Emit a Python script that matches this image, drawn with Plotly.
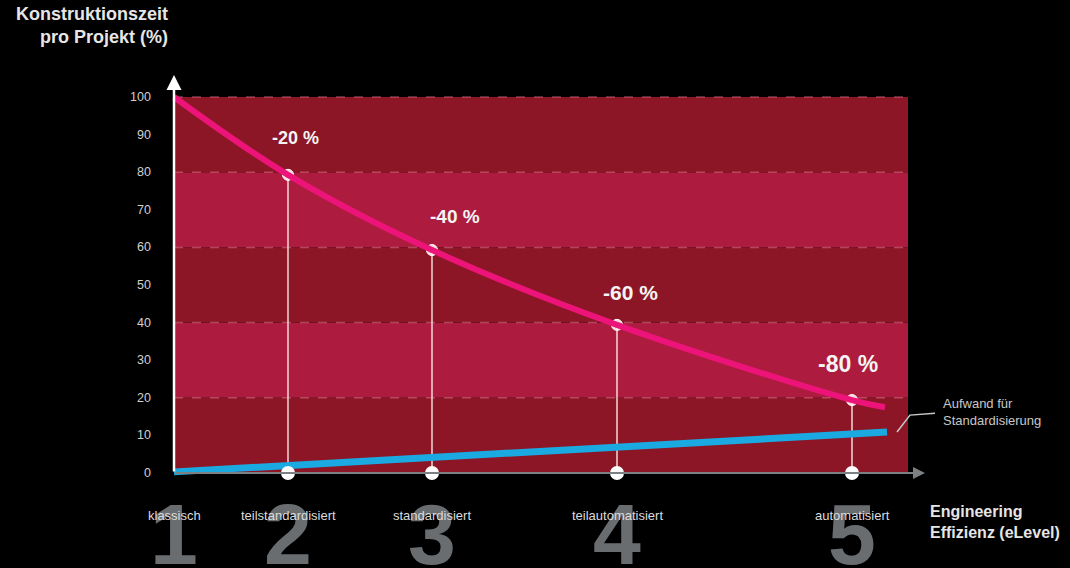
import plotly.graph_objects as go

# ---------------- data ----------------
levels = ["1", "2", "3", "4", "5"]
level_names = ["klassisch", "teilstandardisiert", "standardisiert", "teilautomatisiert", "automatisiert"]
level_pos = [0, 114, 258, 443, 678]          # horizontal position of each eLevel on the x scale
time_values = [100, 79.3, 59.3, 39.4, 19.4]   # Konstruktionszeit pro Projekt (%)
curve_end_x = 711
curve_end_y = 17.5
effort_x = [0, 713]
effort_y = [0.3, 10.9]                       # Aufwand für Standardisierung
reduction_labels = ["-20 %", "-40 %", "-60 %", "-80 %"]
reduction_label_x = [121, 281, 456, 674]
reduction_label_y = [89.1, 68.1, 48.1, 29.0]
reduction_label_size = [18, 19, 21, 23]
y_ticks = [0, 10, 20, 30, 40, 50, 60, 70, 80, 90, 100]
band_edges = [0, 20, 40, 60, 80, 100]
area_right = 734
x_arrow_end = 751
y_arrow_end = 105.85

W, H = 1070, 568
X0_PX, Y0_PX, PPU = 174, 473, 3.76
x_range = [-X0_PX, W - X0_PX]
y_range = [(Y0_PX - H) / PPU, Y0_PX / PPU]

FONT = "Liberation Sans, Arial, Helvetica, sans-serif"
DARK_BAND = "#8c1626"
LIGHT_BAND = "#ad1c3e"
PINK = "#ec1478"
BLUE = "#1ba9e1"

fig = go.Figure()

shapes = []
for i in range(len(band_edges) - 1):
    shapes.append(dict(type="rect", xref="x", yref="y", x0=0, x1=area_right,
                       y0=band_edges[i], y1=band_edges[i + 1],
                       fillcolor=DARK_BAND if i % 2 == 0 else LIGHT_BAND,
                       line=dict(width=0), layer="below"))
for e in band_edges[1:]:
    shapes.append(dict(type="line", xref="x", yref="y", x0=0, x1=area_right, y0=e, y1=e,
                       line=dict(color="rgba(235,120,150,0.5)", width=1.5, dash="dash"),
                       layer="below"))
# pointer line for the effort annotation
shapes.append(dict(type="path", xref="x", yref="y",
                   path="M 723 10.9 L 736 15.4 L 761 15.9",
                   line=dict(color="#c8c8c8", width=1.5)))

# vertical drop lines
for xp, yv in zip(level_pos[1:], time_values[1:]):
    fig.add_trace(go.Scatter(x=[xp, xp], y=[0, yv], mode="lines",
                             line=dict(color="rgba(255,235,235,0.9)", width=1.5),
                             hoverinfo="skip", showlegend=False))

# blue effort line
fig.add_trace(go.Scatter(x=effort_x, y=effort_y, mode="lines",
                         line=dict(color=BLUE, width=7),
                         hoverinfo="skip", showlegend=False))

# top markers
fig.add_trace(go.Scatter(x=level_pos[1:], y=time_values[1:], mode="markers",
                         marker=dict(color="rgba(255,240,240,0.9)", size=11,
                                     line=dict(color="white", width=1)),
                         hoverinfo="skip", showlegend=False))

# pink curve
fig.add_trace(go.Scatter(x=level_pos + [curve_end_x], y=time_values + [curve_end_y],
                         mode="lines", line=dict(color=PINK, width=6, shape="spline", smoothing=1.0),
                         hoverinfo="skip", showlegend=False))

# bottom markers
fig.add_trace(go.Scatter(x=level_pos[1:], y=[0] * 4, mode="markers",
                         marker=dict(color="white", size=14),
                         hoverinfo="skip", showlegend=False))

annotations = []
# x axis arrow (grey) and y axis arrow (white)
annotations.append(dict(x=x_arrow_end, y=0, ax=0, ay=0, xref="x", yref="y", axref="x", ayref="y",
                        text="", showarrow=True, arrowhead=2, arrowsize=1.2, arrowwidth=2,
                        arrowcolor="#7d8083"))
annotations.append(dict(x=0, y=y_arrow_end, ax=0, ay=0, xref="x", yref="y", axref="x", ayref="y",
                        text="", showarrow=True, arrowhead=2, arrowsize=1.2, arrowwidth=2.5,
                        arrowcolor="white"))

# y tick labels
for t in y_ticks:
    annotations.append(dict(x=-21, y=t, xref="x", yref="y", text=str(t), showarrow=False,
                            xanchor="right", yanchor="middle",
                            font=dict(family=FONT, size=12.5, color="#d0d0d0")))

# big level digits
for xp, lv in zip(level_pos, levels):
    annotations.append(dict(x=xp, y=-16.3, xref="x", yref="y", text=f"<b>{lv}</b>", showarrow=False,
                            xanchor="center", yanchor="middle",
                            font=dict(family=FONT, size=86, color="#6a6d70")))
# level names
for xp, nm in zip(level_pos, level_names):
    annotations.append(dict(x=xp, y=-11.4, xref="x", yref="y", text=nm, showarrow=False,
                            xanchor="center", yanchor="middle",
                            font=dict(family=FONT, size=13, color="#dcdcdc")))

# reduction labels
for lx, ly, lt, ls in zip(reduction_label_x, reduction_label_y, reduction_labels, reduction_label_size):
    annotations.append(dict(x=lx, y=ly, xref="x", yref="y", text=f"<b>{lt}</b>", showarrow=False,
                            xanchor="center", yanchor="middle",
                            font=dict(family=FONT, size=ls, color="#f4f4f4")))

# titles (paper coords == page coords since the plot fills the page)
annotations.append(dict(x=170 / W, y=1 - 2 / H, xref="paper", yref="paper",
                        text="<b>Konstruktionszeit<br>pro Projekt (%)</b>", showarrow=False,
                        xanchor="right", yanchor="top", align="right",
                        font=dict(family=FONT, size=18, color="#e6e6e6")))
annotations.append(dict(x=928 / W, y=1 - 501 / H, xref="paper", yref="paper",
                        text="<b>Engineering<br>Effizienz (eLevel)</b>", showarrow=False,
                        xanchor="left", yanchor="top", align="left",
                        font=dict(family=FONT, size=16, color="#e6e6e6")))
annotations.append(dict(x=941 / W, y=1 - 394 / H, xref="paper", yref="paper",
                        text="Aufwand für<br>Standardisierung", showarrow=False,
                        xanchor="left", yanchor="top", align="left",
                        font=dict(family=FONT, size=13, color="#c8c8c8")))

fig.update_layout(
    width=W, height=H,
    margin=dict(l=0, r=0, t=0, b=0, pad=0),
    paper_bgcolor="black", plot_bgcolor="black",
    xaxis=dict(range=x_range, visible=False, fixedrange=True),
    yaxis=dict(range=y_range, visible=False, fixedrange=True),
    shapes=shapes, annotations=annotations, showlegend=False,
)

fig.write_html("out.html")
